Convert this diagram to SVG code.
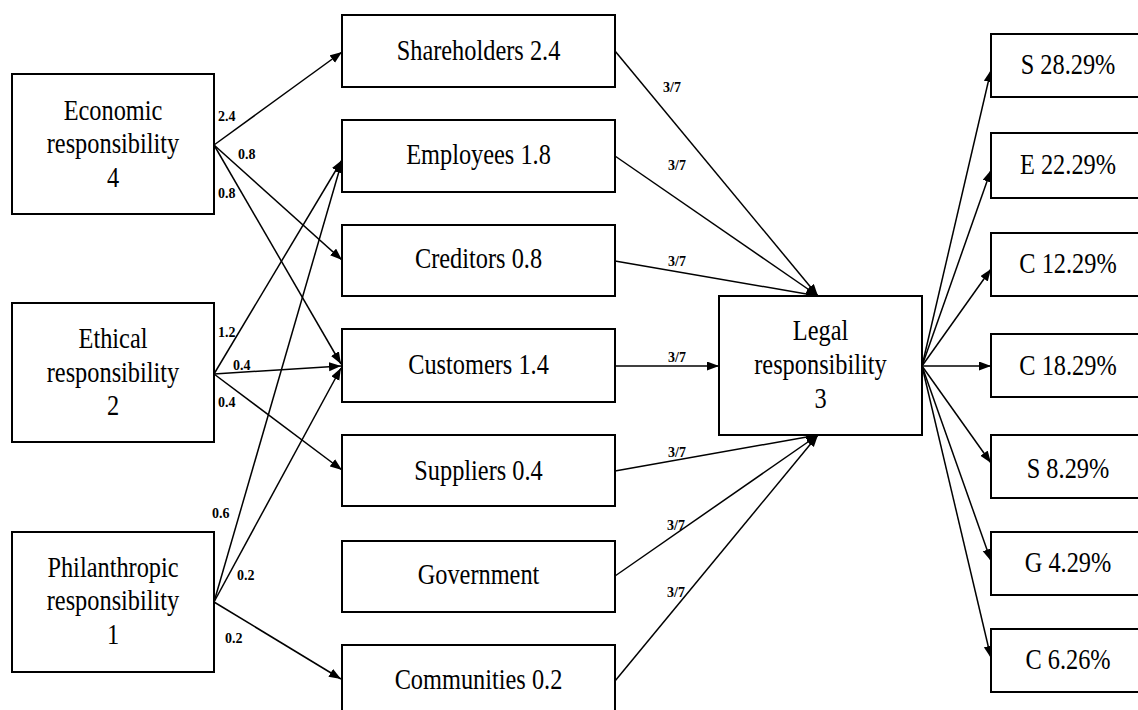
<svg xmlns="http://www.w3.org/2000/svg" width="1138" height="710" viewBox="0 0 1138 710" font-family="Liberation Serif, Tinos, Times New Roman, Noto Serif, FreeSerif, DejaVu Serif, serif">
<style>
.box{fill:#fff;stroke:#000;stroke-width:2}
.t{font-size:29px;text-anchor:middle;fill:#000}
.w{font-size:14px;font-weight:bold;fill:#000}
.c line{stroke:#000;stroke-width:1.5;marker-end:url(#ah)}
</style>
<defs>
<marker id="ah" markerUnits="userSpaceOnUse" markerWidth="13" markerHeight="10" refX="12" refY="4.5" orient="auto">
<path d="M0,0 L12,4.5 L0,9 z" fill="#000"/>
</marker>
</defs>
<rect width="1138" height="710" fill="#fff"/>

<g id="connectors" class="c">
<line x1="214" y1="145" x2="342" y2="52"/>
<line x1="214" y1="145" x2="342" y2="260"/>
<line x1="214" y1="145" x2="341" y2="364"/>
<line x1="214" y1="374" x2="342" y2="160"/>
<line x1="214" y1="374" x2="341" y2="366"/>
<line x1="214" y1="374" x2="342" y2="470"/>
<line x1="214" y1="602" x2="342" y2="161"/>
<line x1="214" y1="602" x2="341" y2="368"/>
<line x1="214" y1="602" x2="341" y2="679"/>
<line x1="615" y1="51" x2="818" y2="296"/>
<line x1="615" y1="156" x2="818" y2="296"/>
<line x1="615" y1="261" x2="818" y2="296"/>
<line x1="615" y1="366" x2="719" y2="366"/>
<line x1="615" y1="471" x2="818" y2="435"/>
<line x1="615" y1="576" x2="818" y2="435"/>
<line x1="615" y1="681" x2="818" y2="435"/>
<line x1="922" y1="366" x2="991" y2="70"/>
<line x1="922" y1="366" x2="991" y2="170"/>
<line x1="922" y1="366" x2="991" y2="269"/>
<line x1="922" y1="366" x2="991" y2="366"/>
<line x1="922" y1="366" x2="991" y2="463"/>
<line x1="922" y1="366" x2="991" y2="561"/>
<line x1="922" y1="366" x2="991" y2="658"/>
</g>

<g id="weights">
<text class="w" x="218" y="121">2.4</text>
<text class="w" x="238" y="159">0.8</text>
<text class="w" x="218" y="198">0.8</text>
<text class="w" x="218" y="337">1.2</text>
<text class="w" x="233" y="370">0.4</text>
<text class="w" x="218" y="407">0.4</text>
<text class="w" x="212" y="518">0.6</text>
<text class="w" x="237" y="580">0.2</text>
<text class="w" x="225" y="643">0.2</text>
<text class="w" x="663" y="92">3/7</text>
<text class="w" x="668" y="170">3/7</text>
<text class="w" x="668" y="266">3/7</text>
<text class="w" x="668" y="362">3/7</text>
<text class="w" x="668" y="457">3/7</text>
<text class="w" x="667" y="530">3/7</text>
<text class="w" x="667" y="597">3/7</text>
</g>

<g id="economic">
<rect class="box" x="12" y="74" width="202" height="140"/>
<text class="t" transform="translate(113 120) scale(0.84 1)">Economic</text>
<text class="t" transform="translate(113 153) scale(0.84 1)">responsibility</text>
<text class="t" transform="translate(113 187) scale(0.84 1)">4</text>
</g>
<g id="ethical">
<rect class="box" x="12" y="303" width="202" height="139"/>
<text class="t" transform="translate(113 348) scale(0.84 1)">Ethical</text>
<text class="t" transform="translate(113 382) scale(0.84 1)">responsibility</text>
<text class="t" transform="translate(113 415) scale(0.84 1)">2</text>
</g>
<g id="philanthropic">
<rect class="box" x="12" y="532" width="202" height="140"/>
<text class="t" transform="translate(113 577) scale(0.84 1)">Philanthropic</text>
<text class="t" transform="translate(113 610) scale(0.84 1)">responsibility</text>
<text class="t" transform="translate(113 644) scale(0.84 1)">1</text>
</g>

<g id="shareholders">
<rect class="box" x="342" y="15" width="273" height="72"/>
<text class="t" transform="translate(478.5 60) scale(0.84 1)">Shareholders 2.4</text>
</g>
<g id="employees">
<rect class="box" x="342" y="120" width="273" height="72"/>
<text class="t" transform="translate(478.5 164) scale(0.84 1)">Employees 1.8</text>
</g>
<g id="creditors">
<rect class="box" x="342" y="225" width="273" height="71"/>
<text class="t" transform="translate(478.5 268) scale(0.84 1)">Creditors 0.8</text>
</g>
<g id="customers">
<rect class="box" x="342" y="329" width="273" height="73"/>
<text class="t" transform="translate(478.5 374) scale(0.84 1)">Customers 1.4</text>
</g>
<g id="suppliers">
<rect class="box" x="342" y="435" width="273" height="71"/>
<text class="t" transform="translate(478.5 480) scale(0.84 1)">Suppliers 0.4</text>
</g>
<g id="government">
<rect class="box" x="342" y="541" width="273" height="71"/>
<text class="t" transform="translate(478.5 584) scale(0.84 1)">Government</text>
</g>
<g id="communities">
<rect class="box" x="342" y="645" width="273" height="75"/>
<text class="t" transform="translate(478.5 689) scale(0.84 1)">Communities 0.2</text>
</g>

<g id="legal">
<rect class="box" x="719" y="296" width="203" height="139"/>
<text class="t" transform="translate(820.5 340) scale(0.84 1)">Legal</text>
<text class="t" transform="translate(820.5 374) scale(0.84 1)">responsibility</text>
<text class="t" transform="translate(820.5 408) scale(0.84 1)">3</text>
</g>

<g id="r-s1">
<rect class="box" x="991" y="34" width="160" height="63"/>
<text class="t" transform="translate(1068 74) scale(0.84 1)">S 28.29%</text>
</g>
<g id="r-e">
<rect class="box" x="991" y="133" width="160" height="65"/>
<text class="t" transform="translate(1068 174) scale(0.84 1)">E 22.29%</text>
</g>
<g id="r-c1">
<rect class="box" x="991" y="233" width="160" height="63"/>
<text class="t" transform="translate(1068 273) scale(0.84 1)">C 12.29%</text>
</g>
<g id="r-c2">
<rect class="box" x="991" y="334" width="160" height="63"/>
<text class="t" transform="translate(1068 375) scale(0.84 1)">C 18.29%</text>
</g>
<g id="r-s2">
<rect class="box" x="991" y="435" width="160" height="63"/>
<text class="t" transform="translate(1068 478) scale(0.84 1)">S 8.29%</text>
</g>
<g id="r-g">
<rect class="box" x="991" y="532" width="160" height="63"/>
<text class="t" transform="translate(1068 572) scale(0.84 1)">G 4.29%</text>
</g>
<g id="r-c3">
<rect class="box" x="991" y="629" width="160" height="63"/>
<text class="t" transform="translate(1068 669) scale(0.84 1)">C 6.26%</text>
</g>
</svg>
